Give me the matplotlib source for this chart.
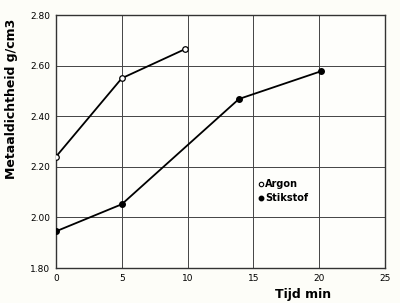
import matplotlib
matplotlib.use("Agg")
from matplotlib import pyplot as plt

# data
argon_t = [0, 5, 9.8]
argon_rho = [2.24, 2.55, 2.665]
stikstof_t = [0, 5, 13.9, 20.1]
stikstof_rho = [1.945, 2.052, 2.468, 2.577]

x_ticks = [0, 5, 10, 15, 20, 25]
y_ticks = [1.80, 2.00, 2.20, 2.40, 2.60, 2.80]

plt.rcParams['font.family'] = ['DejaVu Sans']

fig = plt.figure(figsize=(4.0, 3.03), dpi=100, facecolor="#fdfdf8")
ax = fig.add_axes([56 / 400, 1 - 268 / 303, 329 / 400, 253 / 303])
ax.set_facecolor("#fefefb")

ax.plot(argon_t, argon_rho, color="black", lw=1.3, marker="o", ms=4,
        mfc="white", mec="black", mew=0.9, label="Argon", zorder=3)
ax.plot(stikstof_t, stikstof_rho, color="black", lw=1.3, marker="o", ms=4,
        mfc="black", mec="black", label="Stikstof", zorder=3)

ax.set_xlim(0, 25)
ax.set_ylim(1.80, 2.80)
ax.set_xticks(x_ticks)
ax.set_yticks(y_ticks)
ax.set_yticklabels([f"{v:.2f}" for v in y_ticks])
ax.tick_params(length=0, labelsize=6.5, pad=4)
ax.grid(True, color="#444444", lw=0.7, ls="-")
for s in ax.spines.values():
    s.set_color("#333333")
    s.set_linewidth(1.0)

ax.set_xlabel("Tijd min", fontsize=9, fontweight="bold", x=0.75, labelpad=4)
ax.set_ylabel("Metaaldichtheid g/cm3", fontsize=9, fontweight="bold")
ax.yaxis.set_label_coords(-0.115, 0.67)

# legend as plain text with markers
ax.plot([15.6], [2.132], marker="o", ms=3.2, mfc="white", mec="black", mew=0.8, ls="none")
ax.plot([15.6], [2.077], marker="o", ms=3.2, mfc="black", mec="black", ls="none")
ax.text(15.9, 2.132, "Argon", fontsize=7, fontweight="bold", va="center")
ax.text(15.9, 2.077, "Stikstof", fontsize=7, fontweight="bold", va="center")

fig.savefig("out.png", dpi=100, facecolor=fig.get_facecolor())
